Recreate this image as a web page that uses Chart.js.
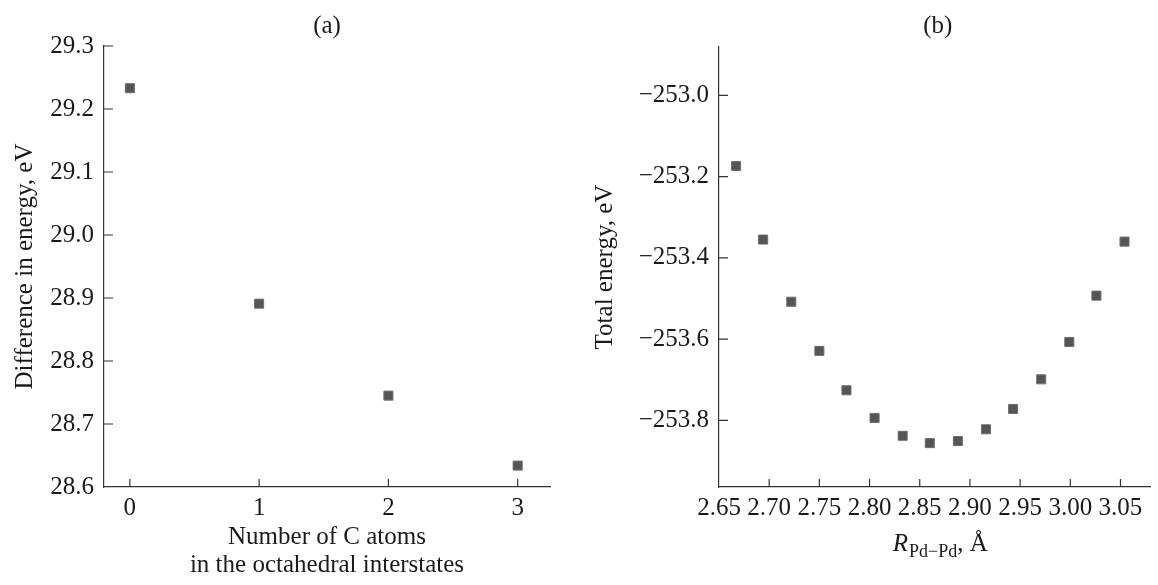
<!DOCTYPE html>
<html><head><meta charset="utf-8">
<script src="https://cdn.jsdelivr.net/npm/chart.js@4.4.1/dist/chart.umd.min.js"></script>
<style>
html,body{margin:0;padding:0;background:#fff;width:1158px;height:585px;overflow:hidden}
#wrapA{position:absolute;left:0;top:0;width:560px;height:585px}
#wrapB{position:absolute;left:560px;top:0;width:598px;height:585px}
</style></head><body>
<div id="wrapA"><canvas id="chartA" width="560" height="585"></canvas></div>
<div id="wrapB"><canvas id="chartB" width="598" height="585"></canvas></div>
<script>
// ---- data ----
const panelTitles = ['(a)', '(b)'];

const carbonCounts = [0, 1, 2, 3];
const energyDifference = [29.233, 28.891, 28.745, 28.634];
const xTicksA = [0, 1, 2, 3];
const xTickLabelsA = ['0', '1', '2', '3'];
const yTicksA = [28.6, 28.7, 28.8, 28.9, 29.0, 29.1, 29.2, 29.3];
const yTickLabelsA = ['28.6', '28.7', '28.8', '28.9', '29.0', '29.1', '29.2', '29.3'];
const yTitleA = 'Difference in energy, eV';
const xTitleA = ['Number of C atoms', 'in the octahedral interstates'];

const rPdPd = [2.667, 2.694, 2.722, 2.750, 2.777, 2.805, 2.833, 2.860, 2.888, 2.916, 2.943, 2.971, 2.999, 3.026, 3.054];
const totalEnergy = [-253.174, -253.355, -253.508, -253.629, -253.726, -253.794, -253.838, -253.856, -253.851, -253.822, -253.772, -253.699, -253.607, -253.493, -253.360];
const xTicksB = [2.65, 2.70, 2.75, 2.80, 2.85, 2.90, 2.95, 3.00, 3.05];
const xTickLabelsB = ['2.65', '2.70', '2.75', '2.80', '2.85', '2.90', '2.95', '3.00', '3.05'];
const yTicksB = [-253.8, -253.6, -253.4, -253.2, -253.0];
const yTickLabelsB = ['\u2212253.8', '\u2212253.6', '\u2212253.4', '\u2212253.2', '\u2212253.0'];
const yTitleB = 'Total energy, eV';
const xTitleB = { main: 'R', sub: 'Pd\u2212Pd', tail: ', \u00C5' };

// ---- style ----
const FONT = '"Liberation Serif", "Times New Roman", serif';
const TEXT = '#1a1a1a';
const AXIS = '#333333';

const inwardTicks = {
  id: 'inwardTicks',
  afterDatasetsDraw(chart) {
    const {ctx, chartArea: a, scales: {x, y}} = chart;
    ctx.save();
    ctx.strokeStyle = AXIS;
    ctx.lineWidth = 1.2;
    ctx.beginPath();
    x.ticks.forEach(t => {
      const px = x.getPixelForValue(t.value);
      if (Math.abs(px - a.left) < 2) return;
      ctx.moveTo(px, a.bottom); ctx.lineTo(px, a.bottom - 8);
    });
    y.ticks.forEach(t => {
      const py = y.getPixelForValue(t.value);
      if (Math.abs(py - a.bottom) < 2) return;
      ctx.moveTo(a.left, py); ctx.lineTo(a.left + 9, py);
    });
    ctx.stroke();
    ctx.restore();
  }
};

const panelTitle = {
  id: 'panelTitle',
  afterDraw(chart, args, opts) {
    const {ctx, chartArea: a} = chart;
    ctx.save();
    ctx.font = '25px ' + FONT;
    ctx.fillStyle = TEXT;
    ctx.textAlign = 'center';
    ctx.textBaseline = 'middle';
    ctx.fillText(opts.text, (a.left + a.right) / 2 + (opts.dx || 0), opts.y);
    ctx.restore();
  }
};

const subTitleX = {
  id: 'subTitleX',
  afterDraw(chart, args, opts) {
    if (!opts.main) return;
    const {ctx, chartArea: a} = chart;
    ctx.save();
    ctx.fillStyle = TEXT;
    ctx.textBaseline = 'alphabetic';
    ctx.textAlign = 'left';
    const fMain = 'italic 25px ' + FONT, fSub = '18px ' + FONT, fTail = '25px ' + FONT;
    ctx.font = fMain; const w1 = ctx.measureText(opts.main).width;
    ctx.font = fSub; const w2 = ctx.measureText(opts.sub).width;
    ctx.font = fTail; const w3 = ctx.measureText(opts.tail).width;
    let x0 = (a.left + a.right) / 2 + (opts.dx || 0) - (w1 + w2 + w3) / 2;
    const base = opts.baseline;
    ctx.font = fMain; ctx.fillText(opts.main, x0, base); x0 += w1 + 1;
    ctx.font = fSub; ctx.fillText(opts.sub, x0, base + 6); x0 += w2;
    ctx.font = fTail; ctx.fillText(opts.tail, x0, base);
    ctx.restore();
  }
};

function pointDataset(xs, ys) {
  return {
    data: xs.map((v, i) => ({x: v, y: ys[i]})),
    pointStyle: 'rect',
    pointRadius: 6.4,
    pointHoverRadius: 6.4,
    backgroundColor: '#555555',
    borderColor: '#6e6e6e',
    borderWidth: 1,
    showLine: false
  };
}

function makeChart(canvas, cfg) {
  return new Chart(canvas, {
    type: 'scatter',
    data: {datasets: [pointDataset(cfg.xs, cfg.ys)]},
    options: {
      responsive: false,
      animation: false,
      events: [],
      layout: {padding: cfg.padding},
      plugins: {
        legend: {display: false},
        tooltip: {enabled: false},
        panelTitle: {text: cfg.title, y: 26, dx: cfg.titleDx || 0},
        subTitleX: cfg.subTitle || {}
      },
      scales: {
        x: {
          type: 'linear', position: 'bottom',
          min: cfg.xMin, max: cfg.xMax,
          afterBuildTicks: s => { s.ticks = cfg.xTicks.map(v => ({value: v})); },
          afterFit: s => { s.height = cfg.xHeight; },
          grid: {display: false, drawTicks: false, tickLength: 0},
          border: {display: true, color: AXIS, width: 1.2},
          ticks: {
            padding: 6, maxRotation: 0, autoSkip: false,
            color: TEXT, font: {family: FONT, size: 25},
            callback: (v, i) => cfg.xLabels[i]
          },
          title: cfg.xTitle ? {
            display: true, text: cfg.xTitle, color: TEXT,
            font: {family: FONT, size: 25, lineHeight: 1.12},
            padding: {top: 0, bottom: 6}
          } : {display: false}
        },
        y: {
          type: 'linear', position: 'left',
          min: cfg.yMin, max: cfg.yMax,
          afterBuildTicks: s => { s.ticks = cfg.yTicks.map(v => ({value: v})); },
          afterFit: s => { s.width = cfg.yWidth; },
          grid: {display: false, drawTicks: false, tickLength: 0},
          border: {display: true, color: AXIS, width: 1.2},
          ticks: {
            padding: 10, autoSkip: false,
            color: TEXT, font: {family: FONT, size: 25},
            callback: (v, i) => cfg.yLabels[i]
          },
          title: {
            display: true, text: cfg.yTitle, color: TEXT,
            font: {family: FONT, size: 25, lineHeight: 1.2},
            padding: {top: cfg.yTitlePad, bottom: 0}
          }
        }
      }
    },
    plugins: [inwardTicks, panelTitle, subTitleX]
  });
}

makeChart(document.getElementById('chartA'), {
  xs: carbonCounts, ys: energyDifference,
  title: panelTitles[0],
  padding: {left: 0, right: 10, top: 46, bottom: 0},
  xMin: -0.2, xMax: 3.25, yMin: 28.6, yMax: 29.3,
  xTicks: xTicksA, xLabels: xTickLabelsA,
  yTicks: yTicksA, yLabels: yTickLabelsA,
  xHeight: 98, yWidth: 104,
  xTitle: xTitleA, yTitle: yTitleA, yTitlePad: 10
});

makeChart(document.getElementById('chartB'), {
  xs: rPdPd, ys: totalEnergy,
  title: panelTitles[1], titleDx: 3,
  padding: {left: 0, right: 0, top: 47, bottom: 0},
  xMin: 2.65, xMax: 3.08, yMin: -253.964, yMax: -252.881,
  xTicks: xTicksB, xLabels: xTickLabelsB,
  yTicks: yTicksB, yLabels: yTickLabelsB,
  xHeight: 98, yWidth: 159,
  xTitle: null, yTitle: yTitleB, yTitlePad: 30,
  subTitle: {main: xTitleB.main, sub: xTitleB.sub, tail: xTitleB.tail, baseline: 551, dx: 5}
});
</script>
</body></html>
